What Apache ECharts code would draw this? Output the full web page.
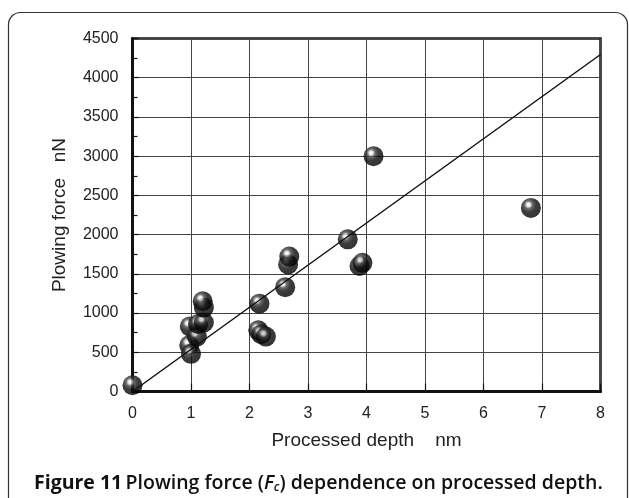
<!DOCTYPE html>
<html>
<head>
<meta charset="utf-8">
<script src="https://cdn.jsdelivr.net/npm/echarts@6/dist/echarts.min.js"></script>
<style>
html,body{margin:0;padding:0;background:#fff;}
#c{width:629px;height:498px;}
</style>
</head>
<body>
<div id="c"></div>
<script>
// Data
var depthNm = [0.0, 0.98, 0.97, 1.0, 1.1, 1.12, 1.22, 1.22, 1.2, 2.15, 2.2, 2.28, 2.17, 2.61, 2.66, 2.68, 3.68, 3.88, 3.93, 4.12, 6.81];
var forceNn = [80, 830, 590, 480, 700, 860, 880, 1070, 1150, 780, 730, 700, 1120, 1330, 1620, 1720, 1940, 1600, 1640, 3000, 2340];
var fitDepth = [0, 8];
var fitForce = [0, 4296];
var xTicks = [0, 1, 2, 3, 4, 5, 6, 7, 8];
var yTicks = [0, 500, 1000, 1500, 2000, 2500, 3000, 3500, 4000, 4500];

var points = depthNm.map(function (d, i) { return [d, forceNn[i]]; });
var fitLine = fitDepth.map(function (d, i) { return [d, fitForce[i]]; });

var ball = {
  type: 'radial', x: 0.38, y: 0.34, r: 0.68,
  colorStops: [
    { offset: 0, color: '#ffffff' },
    { offset: 0.12, color: '#eeeeee' },
    { offset: 0.3, color: '#444444' },
    { offset: 0.55, color: '#0c0c0c' },
    { offset: 1, color: '#000000' }
  ]
};

var chart = echarts.init(document.getElementById('c'), null, { renderer: 'canvas' });
chart.setOption({
  animation: false,
  backgroundColor: '#fff',
  grid: {
    left: 132.5, right: 28.5, top: 38.5, bottom: 106.5,
    show: true, borderColor: '#111', borderWidth: 2.5, containLabel: false
  },
  xAxis: {
    type: 'value', min: xTicks[0], max: xTicks[xTicks.length - 1], interval: 1,
    name: 'Processed depth    nm', nameLocation: 'middle', nameGap: 40,
    nameTextStyle: { fontFamily: 'Liberation Sans', fontSize: 19, color: '#222' },
    axisLine: { show: true, onZero: false, lineStyle: { color: '#111', width: 3 } },
    axisTick: { show: true, inside: true, length: 8, lineStyle: { color: '#111', width: 1.2 } },
    axisLabel: { fontFamily: 'Liberation Sans', fontSize: 16, color: '#222', margin: 14 },
    splitLine: { show: true, lineStyle: { color: '#444', width: 1 } }
  },
  yAxis: {
    type: 'value', min: yTicks[0], max: yTicks[yTicks.length - 1], interval: 500,
    name: 'Plowing force   nN', nameLocation: 'middle', nameGap: 63, nameRotate: 90,
    nameTextStyle: { fontFamily: 'Liberation Sans', fontSize: 19, color: '#222' },
    axisLine: { show: true, onZero: false, lineStyle: { color: '#111', width: 3 } },
    axisTick: { show: true, inside: true, length: 6, lineStyle: { color: '#111', width: 1.2 } },
    minorTick: { show: true, splitNumber: 2, length: 5, lineStyle: { color: '#111', width: 1.2 } },
    axisLabel: {
      fontFamily: 'Liberation Sans', fontSize: 16, color: '#222', margin: 14,
      formatter: function (v) { return String(v); }
    },
    splitLine: { show: true, lineStyle: { color: '#444', width: 1 } }
  },
  series: [
    {
      type: 'scatter', data: points, symbol: 'circle', symbolSize: 20, clip: false, z: 2,
      itemStyle: { color: ball, borderWidth: 0 }
    },
    {
      type: 'line', data: fitLine, showSymbol: false, symbol: 'none', z: 3,
      lineStyle: { color: '#111', width: 1.5 }
    }
  ],
  graphic: [
    {
      type: 'rect', shape: { x: 8.5, y: 12.5, width: 619, height: 520, r: 12 },
      style: { fill: null, stroke: '#333', lineWidth: 1.2 }, z: -1
    },
    {
      type: 'text', left: 34, top: 472,
      style: {
        text: '{b|Figure 11} {s|Plowing force (}{i|F}{sub|c}{s|) dependence on processed depth.}',
        rich: {
          b: { fontFamily: 'Open Sans', fontWeight: 'bold', fontSize: 19.5, lineHeight: 24, fill: '#111' },
          s: { fontFamily: 'Open Sans', fontWeight: 600, fontSize: 19.5, lineHeight: 24, fill: '#111' },
          i: { fontFamily: 'Open Sans', fontWeight: 600, fontStyle: 'italic', fontSize: 19.5, lineHeight: 24, fill: '#111' },
          sub: { fontFamily: 'Open Sans', fontWeight: 600, fontStyle: 'italic', fontSize: 12, lineHeight: 24, fill: '#111', padding: [10, 0, 0, 0] }
        }
      }
    }
  ]
});
</script>
</body>
</html>
